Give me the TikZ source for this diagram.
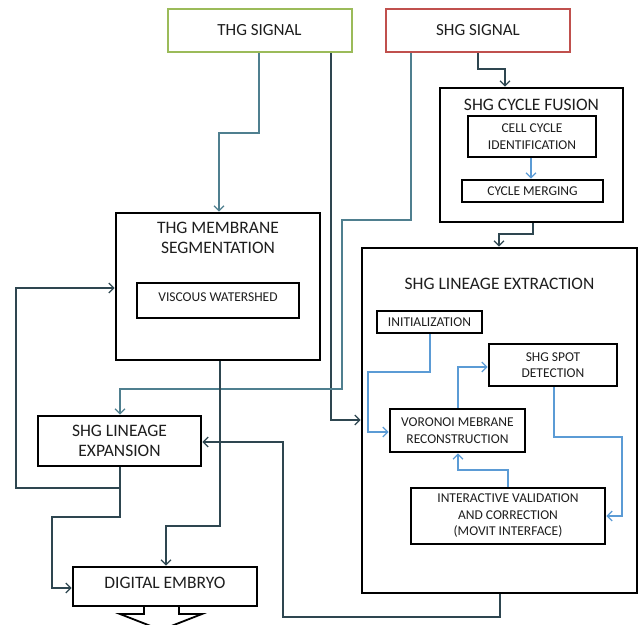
\documentclass[tikz,border=0pt]{standalone}
\usepackage{fontspec}
\setmainfont{Carlito}
\usetikzlibrary{arrows.meta}
\definecolor{conncol}{HTML}{2E4650}
\definecolor{tealc}{HTML}{4F7F8F}
\definecolor{bluec}{HTML}{5B9BD5}
\definecolor{greenc}{HTML}{9BBB59}
\definecolor{redc}{HTML}{C0504D}
\definecolor{txt}{HTML}{1E1E1E}
\tikzset{
  box/.style={draw=black, line width=2.6pt, inner sep=0pt, align=center, text=txt,
    font=\fontsize{13.5}{16.5}\selectfont},
  bigbox/.style={box, font=\fontsize{17.5}{20}\selectfont},
  sigbox/.style={draw, line width=2pt, inner sep=0pt, align=center, text=txt,
    font=\fontsize{17}{20}\selectfont, minimum width=184pt, minimum height=43pt},
  title/.style={inner sep=0pt, align=center, text=txt, font=\fontsize{17.5}{20}\selectfont},
  conn/.style={draw=conncol, line width=1.3pt, -{Straight Barb[length=5pt,width=10pt]}},
  tconn/.style={conn, draw=tealc},
  bconn/.style={conn, draw=bluec}
}
\begin{document}
\begin{tikzpicture}[x=1pt,y=-1pt]
\useasboundingbox (0,0) rectangle (642,624);
\clip (0,0) rectangle (642,624);
\fill[white] (0,0) rectangle (642,624);

% signals
\node[sigbox, draw=greenc] (thg) at (259.5,30.5) {THG SIGNAL};
\node[sigbox, draw=redc] (shg) at (478,30.5) {SHG SIGNAL};

% SHG cycle fusion
\node[box, minimum width=183pt, minimum height=134pt] (fusion) at (531.5,155) {};
\node[title] (fusiont) at (531.5,105) {SHG CYCLE FUSION};
\node[box, minimum width=128pt, minimum height=41pt] (cellid) at (532,136.5) {CELL CYCLE\\IDENTIFICATION};
\node[box, minimum width=141pt, minimum height=22pt] (merge) at (532.5,191) {CYCLE MERGING};

% THG membrane segmentation
\node[box, minimum width=204pt, minimum height=147pt] (membrane) at (218,286.5) {};
\node[title] (membranet) at (218,238) {THG MEMBRANE\\SEGMENTATION};
\node[box, minimum width=162pt, minimum height=35pt, text depth=6pt] (viscous) at (218,300.5) {VISCOUS WATERSHED};

% SHG lineage extraction
\node[box, minimum width=275pt, minimum height=345pt] (extraction) at (499.5,420.5) {};
\node[title] (extractiont) at (499.5,284) {SHG LINEAGE EXTRACTION};
\node[box, minimum width=105pt, minimum height=22pt] (init) at (429.5,322) {INITIALIZATION};
\node[box, minimum width=128pt, minimum height=42pt] (spot) at (553,365) {SHG SPOT\\DETECTION};
\node[box, minimum width=135pt, minimum height=43pt] (voronoi) at (457.5,430.5) {VORONOI MEBRANE\\RECONSTRUCTION};
\node[box, minimum width=194pt, minimum height=56pt] (inter) at (508,516) {INTERACTIVE VALIDATION\\AND CORRECTION\\(MOVIT INTERFACE)};

% lineage expansion, digital embryo
\node[bigbox, minimum width=163pt, minimum height=50pt] (expansion) at (119.5,441) {SHG LINEAGE\\EXPANSION};
\node[bigbox, minimum width=184pt, minimum height=39pt, text depth=7pt] (digital) at (165,586.5) {DIGITAL EMBRYO};

% connectors
\draw[tconn] (thg.south -| 259,0) |- (219,133) -- (membrane.north -| 219,0);
\draw[conn] (thg.south -| 331,0) |- (extraction.west |- 0,420);
\draw[tconn] (shg.south -| 411,0) |- (342,220) |- (120,389) -- (expansion.north -| 120,0);
\draw[conn] (shg.south -| 478,0) |- (505,69) -- (fusion.north -| 505,0);
\draw[bconn] (cellid.south -| 531,0) -- (merge.north -| 531,0);
\draw[conn] (fusion.south -| 533,0) |- (499,234) -- (extraction.north -| 499,0);
\draw[conn] (membrane.south -| 220,0) |- (166,526) -- (digital.north -| 166,0);
\draw[conn] (expansion.south -| 120,0) |- (16,488) |- (membrane.west |- 0,288);
\draw[conn] (expansion.south -| 120,0) |- (52,517) |- (digital.west |- 0,588);
\draw[conn] (extraction.south -| 500,0) |- (283,617) |- (expansion.east |- 0,442);

% blue connectors inside extraction
\draw[bconn] (init.south -| 430,0) |- (368,372) |- (voronoi.west |- 0,432);
\draw[bconn] (voronoi.north -| 458,0) |- (spot.west |- 0,367);
\draw[bconn] (spot.south -| 554,0) |- (622,437) |- (inter.east |- 0,516);
\draw[bconn] (inter.north -| 508,0) |- (458,470) -- (voronoi.south -| 458,0);

% block arrow below digital embryo
\draw[line width=1.8pt, fill=white, line join=miter]
  (144,607) -- (144,614) -- (120,614) -- (161,630) -- (202,614) -- (179,614) -- (179,607);
\end{tikzpicture}
\end{document}
